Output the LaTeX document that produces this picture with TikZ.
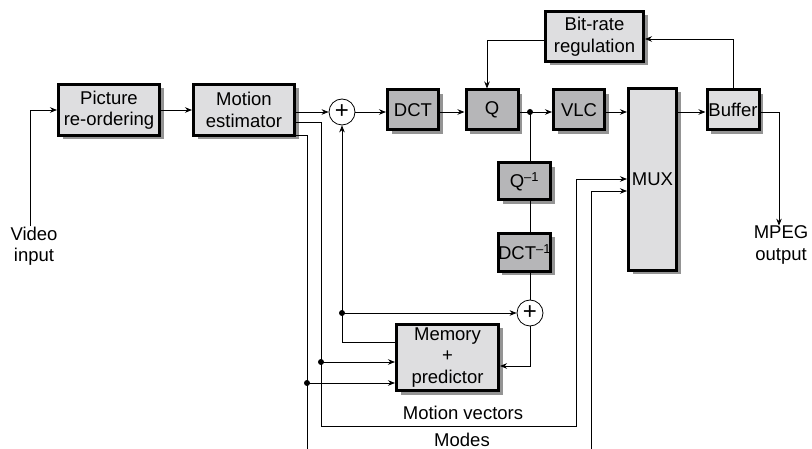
\documentclass[tikz,border=0pt]{standalone}
\usepackage{fontspec}
\setmainfont{Liberation Sans}
\usetikzlibrary{arrows.meta,shadows}
\definecolor{lightbox}{RGB}{222,222,224}
\definecolor{darkbox}{RGB}{182,182,184}
\begin{document}
\begin{tikzpicture}[x=1pt,y=-1pt,
  font=\fontsize{18.5}{21.5}\selectfont,
  blk/.style={draw=black,line width=3pt,inner sep=0pt,align=center,
     drop shadow={shadow xshift=4pt,shadow yshift=-4pt,fill=black!60,opacity=0.7}},
  lbox/.style={blk,fill=lightbox},
  dbox/.style={blk,fill=darkbox},
  sum/.style={circle,draw=black,line width=0.8pt,fill=white,minimum size=26pt,inner sep=0pt,
     font=\fontsize{24}{24}\selectfont},
  conn/.style={line width=0.8pt},
  arr/.style={conn,-{Stealth[length=7pt,width=5.5pt]}},
  junction/.style={circle,fill=black,inner sep=0pt,minimum size=6pt},
  lbl/.style={align=center,inner sep=0pt}]
\useasboundingbox (0,0) rectangle (812,449);
% blocks
\node[lbox,minimum width=101pt,minimum height=51pt] (pic) at (109,110) {Picture\\re-ordering};
\node[lbox,minimum width=101pt,minimum height=51pt] (me) at (244,110) {Motion\\estimator};
\node[sum] (p1) at (342,112) {+};
\node[dbox,minimum width=51pt,minimum height=40pt] (dct) at (413,110) {DCT};
\node[dbox,minimum width=52pt,minimum height=40pt] (q) at (492,110) {Q};
\node[junction] (j1) at (530,112) {};
\node[dbox,minimum width=51pt,minimum height=40pt] (vlc) at (579,110) {VLC};
\node[lbox,minimum width=48pt,minimum height=182pt] (mux) at (652.5,179.5) {MUX};
\node[lbox,minimum width=52pt,minimum height=40pt] (buf) at (733,110) {Buffer};
\node[lbox,minimum width=98pt,minimum height=50pt] (br) at (594.5,36.5) {Bit-rate\\regulation};
\node[dbox,minimum width=52pt,minimum height=37pt] (qi) at (524.5,181.5) {Q\textsuperscript{–1}};
\node[dbox,minimum width=52pt,minimum height=38pt] (di) at (524.5,252.5) {DCT\textsuperscript{–1}};
\node[sum] (p2) at (530,313) {+};
\node[lbox,minimum width=102pt,minimum height=66pt] (mem) at (447.5,357.5) {Memory\\+\\predictor};
% labels
\node[lbl] (vin) at (34,246) {Video\\input};
\node[lbl] (mo) at (781,245) {MPEG\\output};
\node[lbl] (mvl) at (463,413) {Motion vectors};
\node[lbl] (mdl) at (462,440) {Modes};
% main path
\draw[arr] ([xshift=-4pt]vin.north) |- (pic.west);
\draw[arr] (pic) -- (me);
\draw[arr] (me.east |- p1) -- (p1);
\draw[arr] (p1) -- (dct.west |- p1);
\draw[arr] (dct.east |- p1) -- (q.west |- p1);
\draw[conn] (q.east |- p1) -- (j1.center);
\draw[arr] (j1.center) -- (vlc.west |- p1);
\draw[arr] (vlc.east |- p1) -- (mux.west |- p1);
\draw[arr] (mux.east |- p1) -- (buf.west |- p1);
\draw[arr] (buf.east |- p1) -| ([xshift=-2pt]mo.north);
% rate control
\draw[arr] (buf.north) |- (br.east |- 0,39);
\draw[arr] (br.west |- 0,40) -| ([xshift=-5pt]q.north);
% inverse path
\draw[conn] (j1.center) -- (j1 |- qi.north);
\draw[conn] (j1 |- qi.south) -- (j1 |- di.north);
\draw[conn] (j1 |- di.south) -- (p2.north);
\draw[arr] (p2.south) |- (mem.east |- 0,366);
% prediction feedback
\draw[arr] (mem.west |- 0,342) -| (p1.south);
\node[junction] (j4) at (p1.south |- 0,313) {};
\draw[arr] (j4.center) -- (p2.west);
% motion vectors
\draw[arr] (me.east |- 0,122) -| (321,426) -| (576,179) -- (mux.west |- 0,179);
\node[junction] (j2) at (321,362) {};
\draw[arr] (j2.center) -- (mem.west |- j2);
% modes
\draw[conn] (me.east |- 0,135) -| (307,449);
\node[junction] (j3) at (307,383) {};
\draw[arr] (j3.center) -- (mem.west |- j3);
\draw[arr] (591,449) |- (mux.west |- 0,191);
\end{tikzpicture}
\end{document}
